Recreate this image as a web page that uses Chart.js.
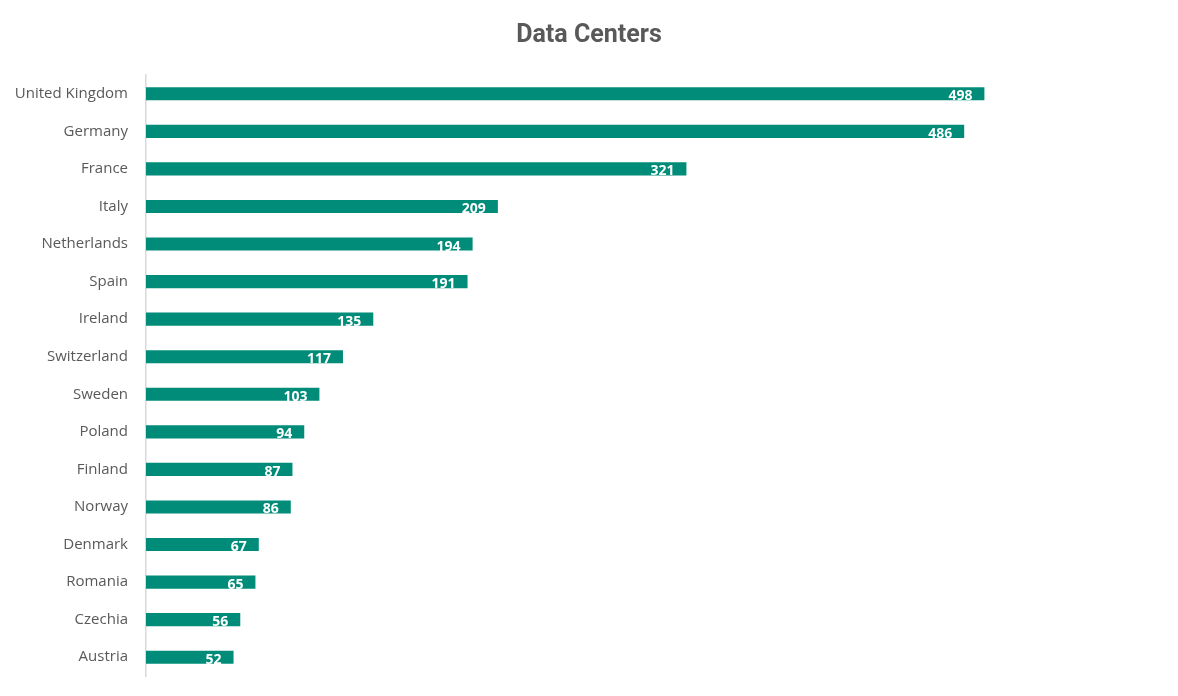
<!DOCTYPE html>
<html>
<head>
<meta charset="utf-8">
<script src="https://cdn.jsdelivr.net/npm/chart.js@4"></script>
<style>
  html, body { margin: 0; padding: 0; background: #fff; }
  #wrap { width: 1178px; height: 696px; }
</style>
</head>
<body>
<div id="wrap"><canvas id="myChart"></canvas></div>
<script>
const countries = ["United Kingdom", "Germany", "France", "Italy", "Netherlands", "Spain", "Ireland",
  "Switzerland", "Sweden", "Poland", "Finland", "Norway", "Denmark", "Romania", "Czechia", "Austria"];
const centers = [498, 486, 321, 209, 194, 191, 135, 117, 103, 94, 87, 86, 67, 65, 56, 52];

// white value labels inside the end of each bar
const barLabels = {
  id: 'barLabels',
  afterDatasetsDraw(chart) {
    const ctx = chart.ctx;
    const meta = chart.getDatasetMeta(0);
    ctx.save();
    ctx.fillStyle = '#ffffff';
    ctx.font = 'bold 14px "Open Sans", sans-serif';
    ctx.textAlign = 'right';
    ctx.textBaseline = 'middle';
    meta.data.forEach((bar, i) => {
      ctx.fillText(centers[i], bar.x - 12, bar.y + 2.5);
    });
    ctx.restore();
  }
};

new Chart("myChart", {
  type: "bar",
  data: {
    labels: countries,
    datasets: [{
      label: 'Data Centers',
      data: centers,
      backgroundColor: '#008C78',
      barPercentage: 0.7,
      categoryPercentage: 0.5
    }]
  },
  options: {
    indexAxis: 'y',
    responsive: true,
    maintainAspectRatio: false,
    animation: false,
    layout: { padding: { left: 0, right: 0, top: 0, bottom: 20 } },
    plugins: {
      legend: { display: false },
      tooltip: { enabled: false },
      title: {
        display: true,
        text: 'Data Centers',
        color: '#595959',
        font: { family: 'Roboto, sans-serif', size: 25, weight: 'bold' },
        padding: { top: 21, bottom: 24 }
      }
    },
    scales: {
      x: {
        display: false,
        min: 0,
        max: 613
      },
      y: {
        grid: { display: false },
        border: { display: true, color: '#d9d9d9', width: 1.5 },
        ticks: {
          color: '#595959',
          font: { family: '"Open Sans", sans-serif', size: 15 },
          padding: 10
        },
        afterFit(scale) { scale.width = 146; }
      }
    }
  },
  plugins: [barLabels]
});
</script>
</body>
</html>
